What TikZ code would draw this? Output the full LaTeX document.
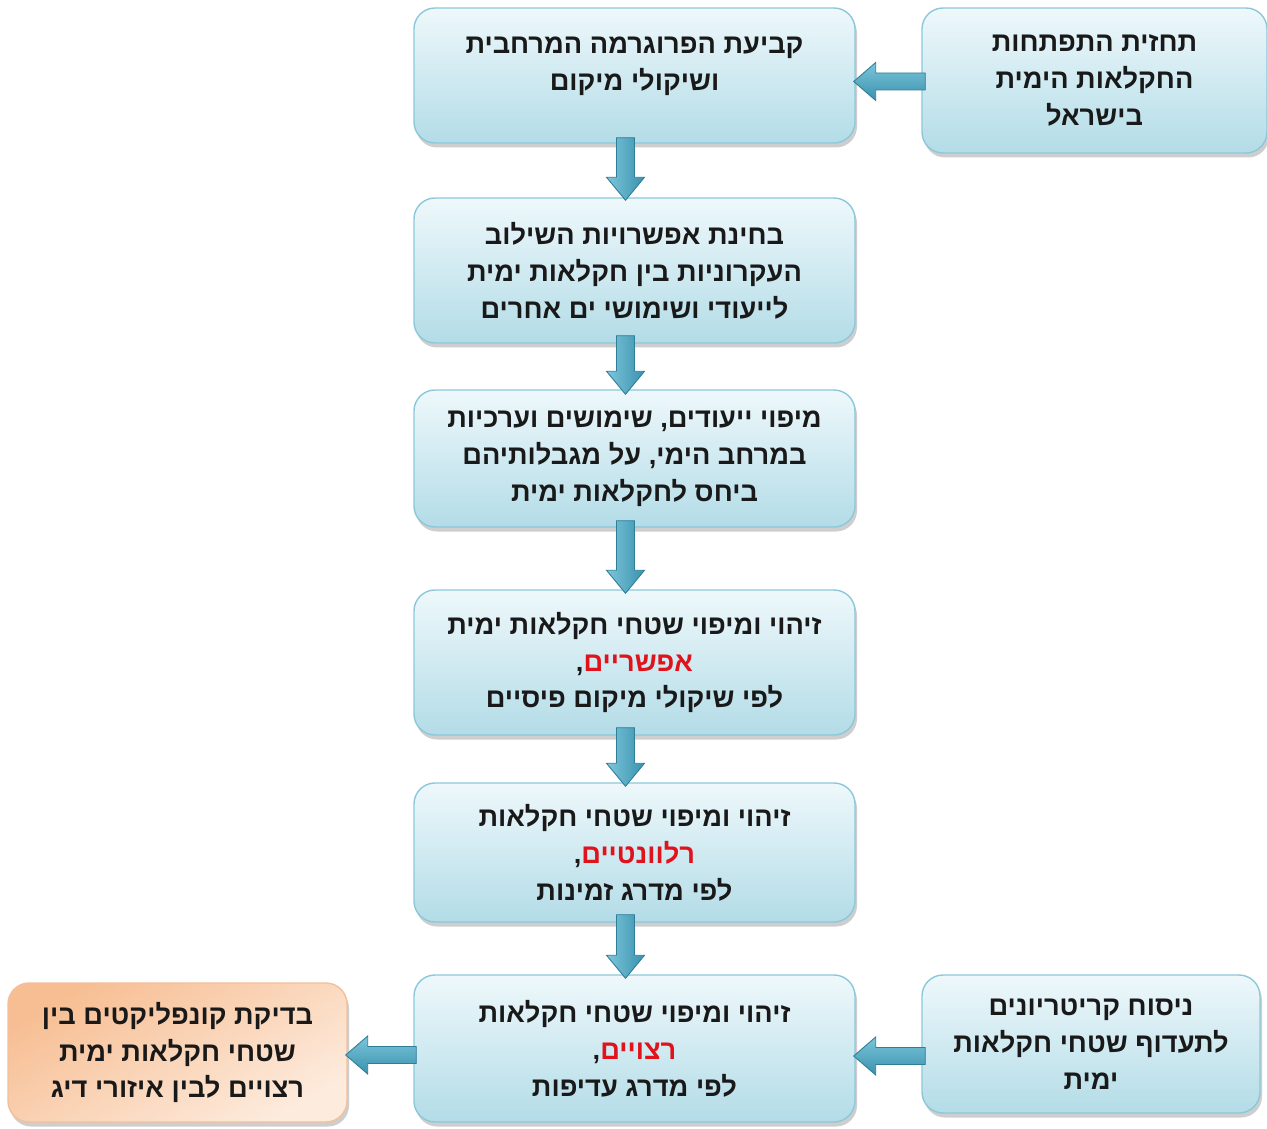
\documentclass[tikz,border=0pt]{standalone}
\usepackage{fontspec}
\newfontfamily\heb[Script=Hebrew]{Liberation Sans}
\TeXXeTstate=1
\usetikzlibrary{shadows,calc}
\definecolor{boxtop}{HTML}{EEF8FB}
\definecolor{boxbot}{HTML}{B3DCE7}
\definecolor{boxline}{HTML}{8CC8DA}
\definecolor{ortop}{HTML}{F7BE93}
\definecolor{orbot}{HTML}{FDEBDD}
\definecolor{orline}{HTML}{F2C09C}
\definecolor{arrL}{HTML}{7CC6DB}
\definecolor{arrR}{HTML}{3A91AD}
\definecolor{arrline}{HTML}{2F7E97}
\definecolor{redword}{HTML}{E0121B}
\newcommand\rl[1]{\beginR #1\endR}
% a single red word followed (on its left) by a comma, set without reversal
\newcommand\rw[1]{,\textcolor{redword}{#1}}
\tikzset{
  flowbox/.style={rounded corners=0.42cm, draw=boxline, line width=0.8pt,
    top color=boxtop, bottom color=boxbot,
    drop shadow={shadow xshift=0.04cm, shadow yshift=-0.09cm, opacity=0.35, fill=black!55},
    align=center, font=\heb\bfseries\fontsize{15.5pt}{21pt}\selectfont, text=black!90},
  orbox/.style={flowbox, draw=orline, top color=ortop, bottom color=orbot, shading angle=30},
  boxtext/.style={align=center, font=\heb\bfseries\fontsize{15.5pt}{21pt}\selectfont, text=black!90},
  varrowstyle/.style={draw=arrline, line width=0.5pt, left color=arrL, right color=arrR},
  harrowstyle/.style={draw=arrline, line width=0.5pt, top color=arrL, bottom color=arrR}
}
% vertical down arrow: #1 start, #2 tip
\newcommand\blkdownarrow[2]{%
  \path[varrowstyle] let \p1=(#1), \p2=(#2) in
    (\x1-0.18cm,\y1) -- (\x1+0.18cm,\y1) -- (\x1+0.18cm,\y2+0.46cm) -- (\x1+0.38cm,\y2+0.46cm)
    -- (\x1,\y2) -- (\x1-0.38cm,\y2+0.46cm) -- (\x1-0.18cm,\y2+0.46cm) -- cycle;}
% horizontal left arrow: #1 start (right), #2 tip (left)
\newcommand\blkleftarrow[2]{%
  \path[harrowstyle] let \p1=(#1), \p2=(#2) in
    (\x1,\y1+0.17cm) -- (\x1,\y1-0.17cm) -- (\x2+0.44cm,\y1-0.17cm) -- (\x2+0.44cm,\y1-0.38cm)
    -- (\x2,\y1) -- (\x2+0.44cm,\y1+0.38cm) -- (\x2+0.44cm,\y1+0.17cm) -- cycle;}
\begin{document}
\begin{tikzpicture}
\useasboundingbox (0,0) rectangle (25.34,-22.58);
\fill[white] (0,0) rectangle (25.34,-22.58);
% boxes
\node[flowbox, minimum width=8.82cm, minimum height=2.7cm] (A) at (12.69,-1.51) {};
\node[boxtext] (At) at (12.69,-1.33) {\rl{קביעת הפרוגרמה המרחבית}\\\rl{ושיקולי מיקום}};
\node[flowbox, minimum width=6.9cm, minimum height=2.9cm] (R1) at (21.89,-1.61)
  {\rl{תחזית התפתחות}\\\rl{החקלאות הימית}\\\rl{בישראל}};
\node[flowbox, minimum width=8.82cm, minimum height=2.9cm] (B) at (12.69,-5.41)
  {\rl{בחינת אפשרויות השילוב}\\\rl{העקרוניות בין חקלאות ימית}\\\rl{לייעודי ושימושי ים אחרים}};
\node[flowbox, minimum width=8.82cm, minimum height=2.74cm] (C) at (12.69,-9.17)
  {\rl{מיפוי ייעודים, שימושים וערכיות}\\\rl{במרחב הימי, על מגבלותיהם}\\\rl{ביחס לחקלאות ימית}};
\node[flowbox, minimum width=8.82cm, minimum height=2.9cm] (D) at (12.69,-13.25)
  {\rl{זיהוי ומיפוי שטחי חקלאות ימית}\\\rw{אפשריים}\\\rl{לפי שיקולי מיקום פיסיים}};
\node[flowbox, minimum width=8.82cm, minimum height=2.78cm] (E) at (12.69,-17.05)
  {\rl{זיהוי ומיפוי שטחי חקלאות}\\\rw{רלוונטיים}\\\rl{לפי מדרג זמינות}};
\node[flowbox, minimum width=8.82cm, minimum height=2.94cm] (F) at (12.69,-20.97)
  {\rl{זיהוי ומיפוי שטחי חקלאות}\\\rw{רצויים}\\\rl{לפי מדרג עדיפות}};
\node[flowbox, minimum width=6.76cm, minimum height=2.76cm] (R2) at (21.82,-20.88)
  {\rl{ניסוח קריטריונים}\\\rl{לתעדוף שטחי חקלאות}\\\rl{ימית}};
\node[orbox, minimum width=6.78cm, minimum height=2.78cm] (L) at (3.55,-21.05)
  {\rl{בדיקת קונפליקטים בין}\\\rl{שטחי חקלאות ימית}\\\rl{רצויים לבין איזורי דיג}};
% vertical arrows
\coordinate (a1s) at ($(A.south)+(-0.18,0.12)$);
\coordinate (a1t) at ($(B.north)+(-0.18,-0.06)$);
\blkdownarrow{a1s}{a1t}
\coordinate (a2s) at ($(B.south)+(-0.18,0.16)$);
\coordinate (a2t) at ($(C.north)+(-0.18,-0.1)$);
\blkdownarrow{a2s}{a2t}
\coordinate (a3s) at ($(C.south)+(-0.18,0.14)$);
\coordinate (a3t) at ($(D.north)+(-0.18,-0.08)$);
\blkdownarrow{a3s}{a3t}
\coordinate (a4s) at ($(D.south)+(-0.18,0.16)$);
\coordinate (a4t) at ($(E.north)+(-0.18,-0.08)$);
\blkdownarrow{a4s}{a4t}
\coordinate (a5s) at ($(E.south)+(-0.18,0.16)$);
\coordinate (a5t) at ($(F.north)+(-0.18,-0.08)$);
\blkdownarrow{a5s}{a5t}
% horizontal arrows
\coordinate (h1s) at ($(R1.west)+(0.08,-0.02)$);
\coordinate (h1t) at ($(A.east |- R1.west)+(-0.04,0)$);
\blkleftarrow{h1s}{h1t}
\coordinate (h2s) at ($(R2.west)+(0.08,-0.24)$);
\coordinate (h2t) at ($(F.east |- h2s)+(-0.04,0)$);
\blkleftarrow{h2s}{h2t}
\coordinate (h3s) at ($(F.west)+(0.06,-0.13)$);
\coordinate (h3t) at ($(L.east |- h3s)+(-0.04,0)$);
\blkleftarrow{h3s}{h3t}
\end{tikzpicture}
\end{document}
